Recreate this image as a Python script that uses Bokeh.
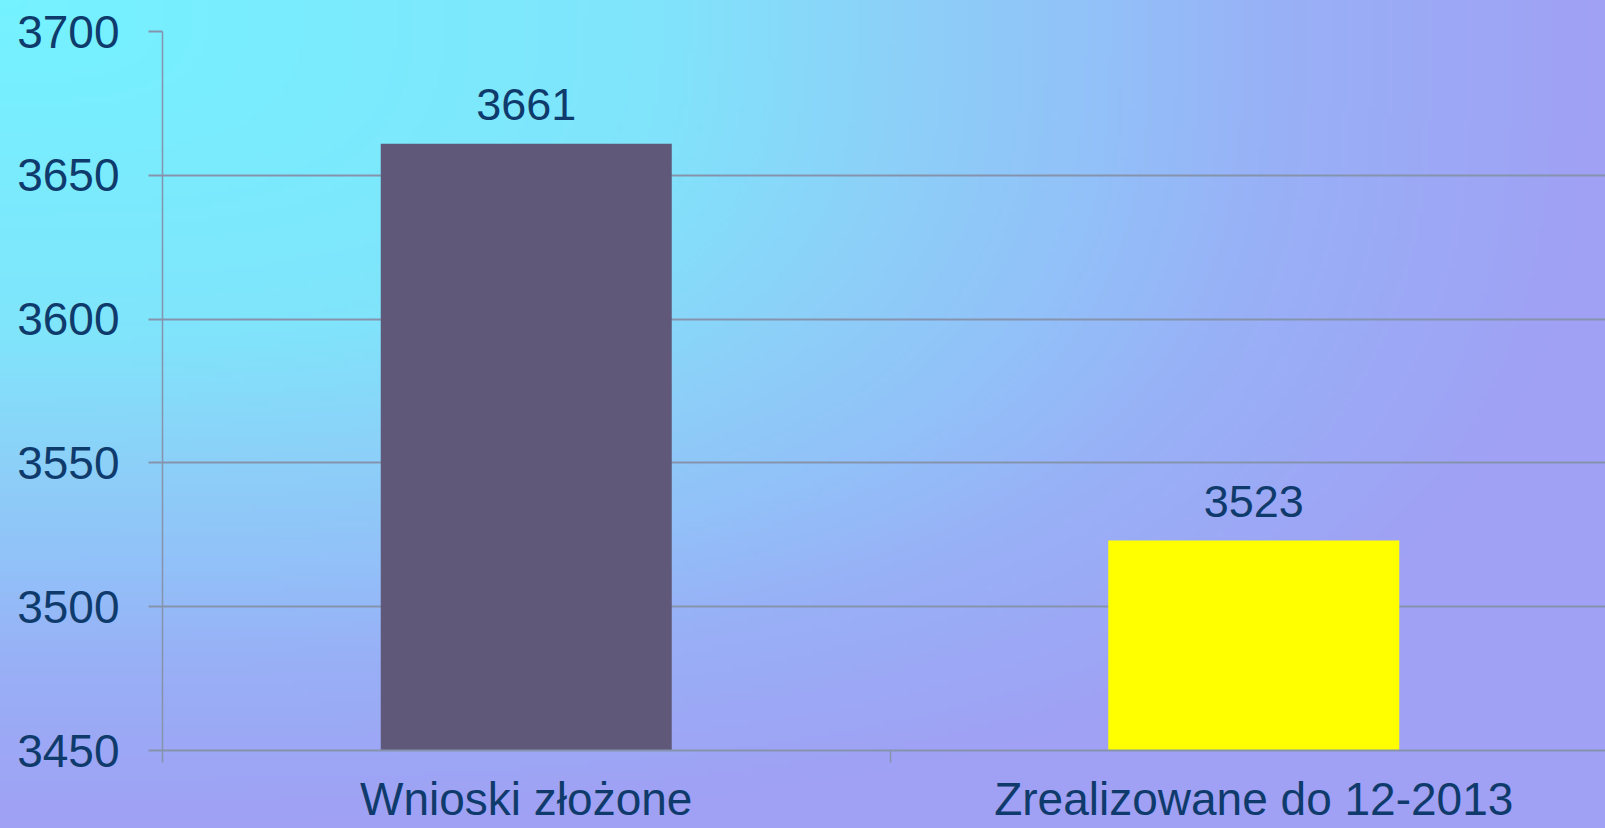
import base64
import struct
import zlib

import numpy as np
from bokeh.plotting import figure
from bokeh.models import Range1d, FixedTicker, ColumnDataSource, LabelSet
from bokeh.core.properties import value
from bokeh.embed import file_html
from bokeh.resources import INLINE

categories = ["Wnioski złożone", "Zrealizowane do 12-2013"]
values = [3661, 3523]
y_ticks = [3450, 3500, 3550, 3600, 3650, 3700]
bar_colors = ["#5f5878", "#ffff00"]

FONT = "Liberation Sans"
TEXT_COLOR = "#0f3b6c"
GRID_COLOR = "#8593ad"

W, H = 1605, 828

# ---- background: soft corner gradient (cyan top-left -> lavender) ----
BG_STOPS_T = [0.0, 0.41, 0.56, 0.69, 0.80, 1.0]
BG_STOPS_RGB = [(116, 242, 255), (128, 228, 251), (140, 208, 248),
                (146, 192, 248), (152, 176, 246), (160, 160, 244)]


def background_css(w=321, h=166, p_norm=3.0):
    u = (np.arange(w) + 0.5) / w
    v = (np.arange(h) + 0.5) / h
    uu, vv = np.meshgrid(u, v)
    t = (uu ** p_norm + vv ** p_norm) ** (1.0 / p_norm)
    t = np.clip(t, 0, 1)
    rgb = np.stack([np.interp(t, BG_STOPS_T, [c[k] for c in BG_STOPS_RGB])
                    for k in range(3)], axis=-1)
    arr = np.round(rgb).astype(np.uint8)
    raw = b"".join(b"\x00" + arr[y].tobytes() for y in range(h))

    def chunk(tag, data):
        return (struct.pack(">I", len(data)) + tag + data
                + struct.pack(">I", zlib.crc32(tag + data) & 0xFFFFFFFF))

    png = (b"\x89PNG\r\n\x1a\n"
           + chunk(b"IHDR", struct.pack(">IIBBBBB", w, h, 8, 2, 0, 0, 0))
           + chunk(b"IDAT", zlib.compress(raw, 9))
           + chunk(b"IEND", b""))
    b64 = base64.b64encode(png).decode("ascii")
    return f'url("data:image/png;base64,{b64}") 0 0 / 100% 100% no-repeat'


xs = [i + 0.5 for i in range(len(categories))]
bounds = [float(i) for i in range(len(categories) + 1)]

src = ColumnDataSource(dict(x=xs, top=values, color=bar_colors,
                            label=[str(v) for v in values],
                            base=[y_ticks[0]] * len(values)))

p = figure(width=W, height=H,
           x_range=Range1d(0, 1.9835), y_range=Range1d(y_ticks[0], y_ticks[-1]),
           output_backend="svg", toolbar_location=None,
           min_border_left=162, min_border_top=31, min_border_right=0,
           min_border_bottom=78,
           background_fill_alpha=0, border_fill_alpha=0,
           outline_line_color=None,
           styles={"background": background_css()})

p.vbar(x="x", top="top", bottom="base", width=0.4, fill_color="color",
       line_color=None, source=src)

labels = LabelSet(x="x", y="top", text="label", source=src, y_offset=24,
                  text_align="center", text_baseline="alphabetic",
                  text_font=value(FONT), text_font_size="45px",
                  text_color=TEXT_COLOR)
p.add_layout(labels)

# x axis: category names centred, ticks at category boundaries (minor ticks)
xa = p.xaxis[0]
xa.ticker = FixedTicker(ticks=xs, minor_ticks=bounds)
xa.major_label_overrides = {x: c for x, c in zip(xs, categories)}
xa.major_tick_out = 0
xa.major_tick_in = 0
xa.minor_tick_out = 12
xa.minor_tick_in = 0
xa.minor_tick_line_color = GRID_COLOR
xa.minor_tick_line_width = 1.5
xa.axis_line_color = GRID_COLOR
xa.axis_line_width = 2
xa.major_label_standoff = 10
xa.major_label_text_font = FONT
xa.major_label_text_font_size = "46px"
xa.major_label_text_color = TEXT_COLOR

# y axis
ya = p.yaxis[0]
ya.ticker = FixedTicker(ticks=y_ticks)
ya.major_tick_out = 14
ya.major_tick_in = 0
ya.minor_tick_out = 0
ya.minor_tick_in = 0
ya.major_tick_line_color = GRID_COLOR
ya.major_tick_line_width = 2
ya.axis_line_color = GRID_COLOR
ya.axis_line_width = 1.5
ya.major_label_standoff = 29
ya.major_label_text_font = FONT
ya.major_label_text_font_size = "46px"
ya.major_label_text_color = TEXT_COLOR

p.xgrid.visible = False
p.ygrid.ticker = FixedTicker(ticks=y_ticks)
p.ygrid.grid_line_color = GRID_COLOR
p.ygrid.grid_line_width = 2

open("out.html", "w").write(file_html(p, INLINE))
